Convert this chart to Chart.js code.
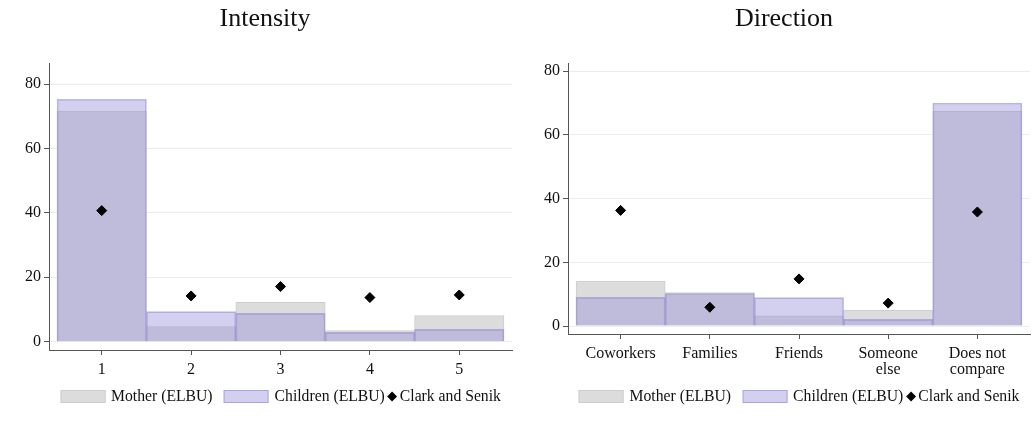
<!DOCTYPE html>
<html>
<head>
<meta charset="utf-8">
<script src="https://cdn.jsdelivr.net/npm/chart.js@4.4.1/dist/chart.umd.min.js"></script>
<style>
    body { margin: 0; width: 1033px; height: 424px; overflow: hidden; background: #fff; font-family: "Liberation Serif", serif; }
    canvas { position: absolute; top: 0; }
    #GraphiqueIntensite { left: 0; }
    #GraphiqueDirection { left: 524px; }
    .legende { position: absolute; top: 387px; display: flex; align-items: center; font-size: 15.7px; line-height: 18px; color: #111; white-space: nowrap; transform: translateX(-50%); }
    .boite { display: inline-block; width: 45px; height: 13px; box-sizing: border-box; margin-right: 6px; }
    .losange { display: inline-block; width: 7px; height: 7px; background: #000; transform: rotate(45deg); margin: 0 4px 0 4px; }
    .texte { margin-right: 11px; }
</style>
</head>
<body>
<canvas id="GraphiqueIntensite" width="530" height="424"></canvas>
<canvas id="GraphiqueDirection" width="520" height="424"></canvas>
<div class="legende" id="LegendeIntensite"></div>
<div class="legende" id="LegendeDirection"></div>

<script>
// Intensite de la comparaison (1 a 5)
var niveaux = ["1", "2", "3", "4", "5"];
var intensiteMere = [71.6, 4.7, 12.2, 3.4, 8.1];
var intensiteEnfants = [75.3, 9.3, 8.8, 2.9, 3.8];
var intensiteClarkSenik = [40.7, 14.2, 17.1, 13.7, 14.5];

// Direction de la comparaison
var groupes = [["Coworkers"], ["Families"], ["Friends"], ["Someone", "else"], ["Does not", "compare"]];
var directionMere = [14.1, 10.5, 3.2, 5.0, 67.4];
var directionEnfants = [9.0, 10.2, 8.9, 2.1, 70.0];
var directionClarkSenik = [36.3, 5.9, 14.8, 7.2, 35.8];

var graduationsY = [0, 20, 40, 60, 80];
var libelles = ["Mother (ELBU)", "Children (ELBU)", "Clark and Senik"];

var COULEUR_MERE = "#dcdcdc";
var BORD_MERE = "#cdcdcd";
var COULEUR_ENFANTS = "rgba(153, 144, 216, 0.43)";
var BORD_ENFANTS = "rgba(140, 130, 210, 0.55)";
var COULEUR_AXE = "#555";
var POLICE = "Liberation Serif";

function VersPoints(valeurs) {
    return valeurs.map(function (v, i) { return { x: i, y: v }; });
}

function CreerGraphique(idCanvas, titre, etiquettes, mere, enfants, clarkSenik, bornesY, marges, largeurAxeY, hauteurAxeX) {
    var ctx = document.getElementById(idCanvas).getContext('2d');
    var policeTicks = { family: POLICE, size: 16, lineHeight: 1.0 };

    return new Chart(ctx, {
        type: 'bar',
        data: {
            datasets: [
                {
                    label: libelles[0],
                    data: VersPoints(mere),
                    backgroundColor: COULEUR_MERE,
                    borderColor: BORD_MERE,
                    borderWidth: 1,
                    grouped: false,
                    barPercentage: 1,
                    categoryPercentage: 1,
                    order: 3
                },
                {
                    label: libelles[1],
                    data: VersPoints(enfants),
                    backgroundColor: COULEUR_ENFANTS,
                    borderColor: BORD_ENFANTS,
                    borderWidth: 1,
                    grouped: false,
                    barPercentage: 1,
                    categoryPercentage: 1,
                    order: 2
                },
                {
                    type: 'line',
                    label: libelles[2],
                    data: VersPoints(clarkSenik),
                    showLine: false,
                    pointStyle: 'rectRot',
                    pointRadius: 5,
                    pointBorderWidth: 1,
                    backgroundColor: "#000",
                    borderColor: "#000",
                    order: 1
                }
            ]
        },
        options: {
            responsive: false,
            animation: false,
            layout: { padding: { left: marges[0], right: marges[1], top: 0, bottom: 0 } },
            plugins: {
                legend: { display: false },
                tooltip: { enabled: false },
                title: {
                    display: true,
                    text: titre,
                    color: "#111",
                    font: { family: POLICE, size: 26, weight: 'normal' },
                    padding: { top: 4, bottom: 28 }
                }
            },
            scales: {
                x: {
                    type: 'linear',
                    min: -0.59,
                    max: 4.59,
                    offset: false,
                    afterBuildTicks: function (axe) {
                        axe.ticks = etiquettes.map(function (e, i) { return { value: i }; });
                    },
                    afterFit: function (axe) { axe.height = hauteurAxeX; },
                    ticks: {
                        autoSkip: false,
                        maxRotation: 0,
                        padding: 7,
                        color: "#111",
                        font: policeTicks,
                        callback: function (valeur) { return etiquettes[valeur]; }
                    },
                    grid: { offset: false, drawOnChartArea: false, tickLength: 5, tickColor: COULEUR_AXE },
                    border: { color: COULEUR_AXE, width: 1 }
                },
                y: {
                    min: bornesY[0],
                    max: bornesY[1],
                    afterBuildTicks: function (axe) {
                        axe.ticks = graduationsY.map(function (v) { return { value: v }; });
                    },
                    afterFit: function (axe) { axe.width = largeurAxeY; },
                    ticks: { padding: 3, color: "#111", font: policeTicks },
                    grid: { color: "#e8eff0", tickLength: 5, tickColor: COULEUR_AXE },
                    border: { color: COULEUR_AXE, width: 1 }
                }
            }
        }
    });
}

function RemplirLegende(idLegende, graphique, decalage) {
    var div = document.getElementById(idLegende);
    var styles = ["boite", "boite", "losange"];
    graphique.data.datasets.forEach(function (d, i) {
        var marque = document.createElement('span');
        marque.className = styles[i];
        if (i < 2) {
            marque.style.background = i === 1 ? "#d3cfee" : d.backgroundColor;
            marque.style.border = "1px solid " + d.borderColor;
        }
        var texte = document.createElement('span');
        texte.textContent = d.label;
        if (i === 0) { texte.className = "texte"; }
        div.appendChild(marque);
        div.appendChild(texte);
    });
    var zone = graphique.chartArea;
    div.style.left = (decalage + (zone.left + zone.right) / 2) + "px";
}

var grafiqueIntensite = CreerGraphique('GraphiqueIntensite', "Intensity", niveaux,
    intensiteMere, intensiteEnfants, intensiteClarkSenik, [-2.6, 86.5], [18, 18], 31, 74);
var grafiqueDirection = CreerGraphique('GraphiqueDirection', "Direction", groupes,
    directionMere, directionEnfants, directionClarkSenik, [-2.5, 82.5], [14, 14], 30, 90);

RemplirLegende('LegendeIntensite', grafiqueIntensite, 0);
RemplirLegende('LegendeDirection', grafiqueDirection, 524);
</script>
</body>
</html>
